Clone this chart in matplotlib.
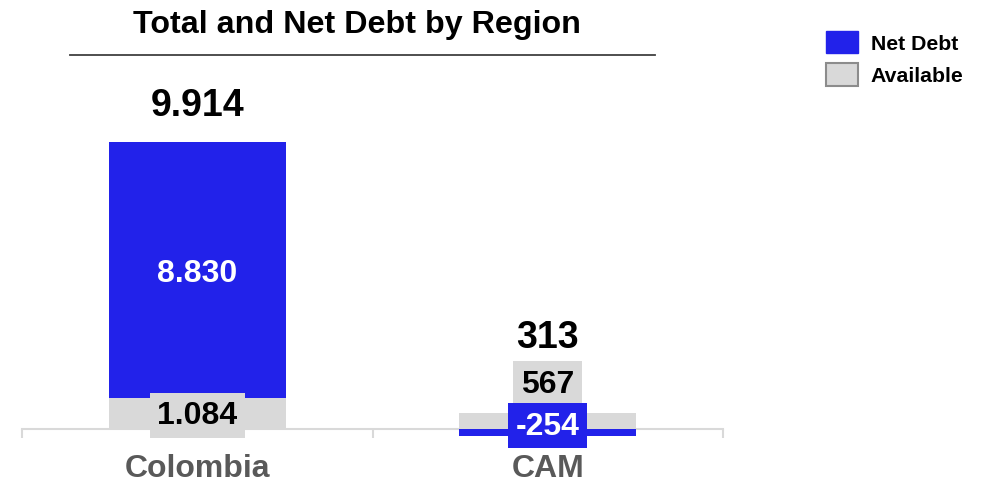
import matplotlib
matplotlib.use("Agg")
import matplotlib.pyplot as plt
from matplotlib.patches import Patch
from matplotlib.lines import Line2D

plt.rcParams['font.family'] = ['Liberation Sans', 'DejaVu Sans']
plt.rcParams['font.weight'] = 'bold'

# Data
regions = ['Colombia', 'CAM']
net_debt = [8830, -254]
available = [1084, 567]
total = [9914, 313]

BLUE = '#2222EA'
GRAY = '#D9D9D9'
AXIS_GRAY = '#D9D9D9'
LABEL_GRAY = '#595959'

W, H = 992, 485
fig = plt.figure(figsize=(W / 100, H / 100), dpi=100)

# axes geometry in pixels
left_px, right_px = 22, 723
base_px = 430           # baseline y (from top)
top_val = 12800
px_per_unit = 287 / 9914
ax_h_px = top_val * px_per_unit
ax = fig.add_axes([left_px / W, (H - base_px) / H, (right_px - left_px) / W, ax_h_px / H])
ax.set_xlim(-0.5, 1.5)
ax.set_ylim(0, top_val)

x = list(range(len(regions)))
bar_w = 0.505

def fmt(v):
    return f"{v:,}".replace(',', '.')

net_bottom = [a if n >= 0 else 0 for a, n in zip(available, net_debt)]
ax.bar(x, available, width=bar_w, color=GRAY, zorder=3, clip_on=False)
ax.bar(x, net_debt, width=bar_w, bottom=net_bottom, color=BLUE, zorder=3, clip_on=False)

# label shifts in pixels (upwards)
avail_shift = [-2, 37]
net_shift = [-3, 7]
total_shift = [37, 76]
for i in x:
    yc = available[i] / 2
    ax.annotate(fmt(available[i]), (i, yc), xytext=(0, avail_shift[i]),
                textcoords='offset pixels', ha='center', va='center',
                fontsize=23, fontweight='bold', color='black', zorder=5,
                annotation_clip=False,
                bbox=dict(boxstyle='square,pad=0.24', fc=GRAY, ec='none'))
    yc = net_bottom[i] + net_debt[i] / 2
    ax.annotate(fmt(net_debt[i]), (i, yc), xytext=(0, net_shift[i]),
                textcoords='offset pixels', ha='center', va='center',
                fontsize=23, fontweight='bold', color='white', zorder=5,
                annotation_clip=False,
                bbox=dict(boxstyle='square,pad=0.24', fc=BLUE, ec='none')
                if i == 1 else None)
    top = max(available[i], net_bottom[i] + net_debt[i])
    ax.annotate(fmt(total[i]), (i, top), xytext=(0, total_shift[i]),
                textcoords='offset pixels', ha='center', va='center',
                fontsize=27, fontweight='bold', color='black', zorder=5,
                annotation_clip=False)

# axis styling
for s in ['top', 'left', 'right']:
    ax.spines[s].set_visible(False)
ax.spines['bottom'].set_color(AXIS_GRAY)
ax.spines['bottom'].set_linewidth(1.5)
ax.spines['bottom'].set_zorder(1)
ax.set_yticks([])
ax.set_xticks(x)
ax.set_xticklabels(regions, fontsize=23, fontweight='bold', color=LABEL_GRAY)
ax.tick_params(axis='x', which='major', length=0, pad=17)
ax.set_xticks([-0.5, 0.5, 1.5], minor=True)
ax.tick_params(axis='x', which='minor', length=6.5, width=1.5, color=AXIS_GRAY, direction='out')
ax.patch.set_visible(False)

# title and rule
fig.text(357 / W, 1 - 25 / H, 'Total and Net Debt by Region', ha='center', va='center',
         fontsize=23.2, fontweight='bold', color='black')
fig.add_artist(Line2D([70 / W, 655 / W], [1 - 56 / H, 1 - 56 / H], color='#404040', lw=1.3))

# legend
handles = [Patch(facecolor=BLUE, edgecolor=BLUE, label='Net Debt'),
           Patch(facecolor=GRAY, edgecolor='#8C8C8C', linewidth=1.5, label='Available')]
fig.legend(handles=handles, loc='upper left', bbox_to_anchor=(826 / W, 1 - 32 / H),
           frameon=False, borderpad=0, borderaxespad=0, prop=dict(size=15.3, weight='bold'),
           handlelength=1.5, handleheight=1.25, handletextpad=0.6, labelspacing=0.45)

fig.savefig('out.png', dpi=100)
